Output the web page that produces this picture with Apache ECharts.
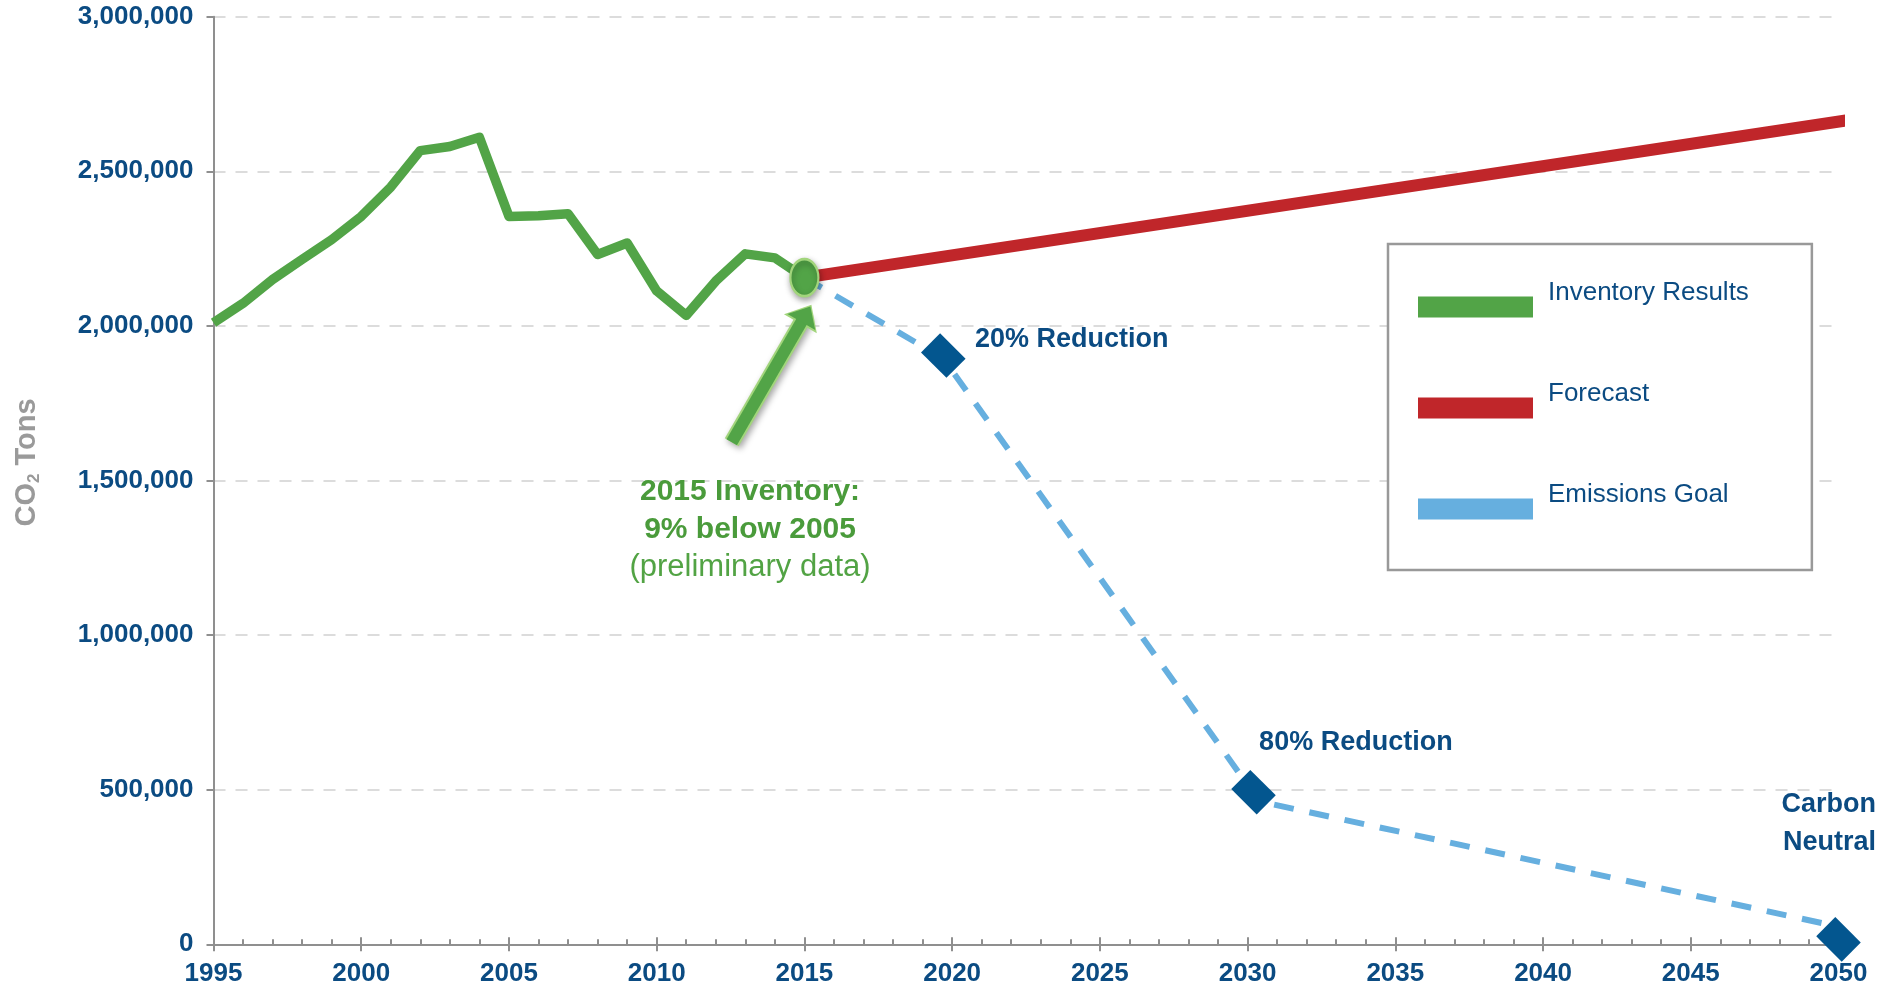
<!DOCTYPE html>
<html>
<head>
<meta charset="utf-8">
<script src="https://cdn.jsdelivr.net/npm/echarts@6/dist/echarts.min.js"></script>
<style>
html,body{margin:0;padding:0;background:#ffffff;}
#chart{width:1883px;height:992px;}
</style>
</head>
<body>
<div id="chart"></div>
<script>
// ---------- data ----------
const inventoryYears = [1995,1996,1997,1998,1999,2000,2001,2002,2003,2004,2005,2006,2007,2008,2009,2010,2011,2012,2013,2014,2015];
const inventoryValues = [2010000,2073000,2150000,2215000,2279000,2354000,2449000,2567000,2580000,2610000,2354000,2356000,2363000,2231000,2268000,2113000,2034000,2145000,2233000,2220000,2156000];

const forecastYears = [2015, 2050.3];
const forecastValues = [2156000, 2665000];

const goalYears = [2015, 2019.7, 2030.4, 2050];
const goalValues = [2156000, 1895000, 462000, 57000];

const goalMarkerYears = [2019.7, 2030.2, 2050];
const goalMarkerValues = [1904000, 492000, 16000];

const arrowYears = [2012.54, 2015.05];
const arrowValues = [1623800, 2037600];

const seriesNames = ['Inventory Results', 'Forecast', 'Emissions Goal'];
const yAxisName = ['CO', '2', ' Tons'];

const noteInventory = ['2015 Inventory:', '9% below 2005', '(preliminary data)'];
const noteInventoryAt = [2013.16, 1341000];
const note20 = '20% Reduction';
const note20At = [2020.77, 1956000];
const note80 = '80% Reduction';
const note80At = [2030.39, 653000];
const noteNeutral = ['Carbon', 'Neutral'];
const noteNeutralAt = [2051.27, 392000];

// ---------- styles ----------
const GREEN = '#52a447';
const GREEN_LIGHT = '#a2d57c';
const RED = '#c0262a';
const BLUE = '#66afdf';
const NAVY = '#0b4b82';
const DIAMOND = '#03568f';
const AXIS = '#8f8f8f';
const BASE_FONT = "'Liberation Sans', Arial, Helvetica, sans-serif";

const pairs = (xs, ys) => xs.map((x, i) => [x, ys[i]]);

const inventoryData = pairs(inventoryYears, inventoryValues).map((p, i, arr) => {
  if (i === arr.length - 1) {
    return {
      value: p,
      symbol: 'circle',
      symbolSize: [28, 37],
      itemStyle: {
        color: GREEN, borderColor: GREEN_LIGHT, borderWidth: 2.5,
        shadowBlur: 6, shadowColor: 'rgba(0,0,0,0.35)', shadowOffsetX: 1, shadowOffsetY: 3
      }
    };
  }
  return { value: p, symbol: 'none' };
});

const noteLabel = (extra) => Object.assign({
  show: true, position: 'inside', verticalAlign: 'middle', fontFamily: BASE_FONT, opacity: 1
}, extra);

const chart = echarts.init(document.getElementById('chart'), null, { renderer: 'canvas' });

const option = {
  backgroundColor: '#ffffff',
  animation: false,
  textStyle: { fontFamily: BASE_FONT },
  grid: {
    left: 213.5, right: 44.5, top: 16.7, bottom: 47.7,
    containLabel: false, outerBoundsMode: 'none'
  },
  legend: {
    data: [
      { name: seriesNames[0], itemStyle: { color: GREEN, borderWidth: 0 } },
      { name: seriesNames[1], itemStyle: { color: RED, borderWidth: 0 } },
      { name: seriesNames[2], itemStyle: { color: BLUE, borderWidth: 0 } }
    ],
    orient: 'vertical',
    left: 1388, top: 244,
    icon: 'rect',
    itemWidth: 115, itemHeight: 21,
    itemGap: 43,
    padding: [34, 63, 32, 30],
    borderColor: '#999999', borderWidth: 2.5,
    backgroundColor: '#ffffff',
    selectedMode: false,
    formatter: name => name + '\n ',
    textStyle: {
      fontFamily: BASE_FONT, fontSize: 26, color: NAVY,
      lineHeight: 29, padding: [0, 0, 0, 10]
    }
  },
  xAxis: [
    {
      type: 'value', min: 1995, max: 2050, interval: 5,
      position: 'bottom',
      axisLine: { show: true, lineStyle: { color: AXIS, width: 2 } },
      axisTick: { show: true, inside: true, length: 7, lineStyle: { color: AXIS, width: 2 } },
      minorTick: { show: true, splitNumber: 5, length: 5, lineStyle: { color: AXIS, width: 2 } },
      axisLabel: {
        show: true, margin: 17, color: NAVY, fontWeight: 'bold', fontSize: 26,
        fontFamily: BASE_FONT, formatter: v => String(v)
      },
      splitLine: { show: false }
    },
    {
      type: 'value', min: 1995, max: 2050, interval: 5,
      position: 'bottom',
      axisLine: { show: false },
      axisTick: { show: true, inside: false, length: 7, lineStyle: { color: AXIS, width: 2 } },
      axisLabel: { show: false },
      splitLine: { show: false }
    }
  ],
  yAxis: {
    type: 'value', min: 0, max: 3000000, interval: 500000,
    axisLine: { show: true, lineStyle: { color: AXIS, width: 2 } },
    axisTick: { show: true, inside: false, length: 7, lineStyle: { color: AXIS, width: 2 } },
    axisLabel: {
      margin: 20, color: NAVY, fontWeight: 'bold', fontSize: 26, fontFamily: BASE_FONT,
      formatter: v => Number(v).toLocaleString('en-US')
    },
    splitLine: { show: true, lineStyle: { color: '#dcdcdc', width: 2, type: [12, 10] } },
    name: '{a|' + yAxisName[0] + '}{b|' + yAxisName[1] + '}{a|' + yAxisName[2] + '}',
    nameLocation: 'middle',
    nameRotate: 90,
    nameGap: 171,
    nameTextStyle: {
      color: '#9a9a9a', fontWeight: 'bold', fontSize: 29, fontFamily: BASE_FONT,
      padding: [0, 0, 0, 36],
      rich: {
        a: { color: '#9a9a9a', fontWeight: 'bold', fontSize: 29, fontFamily: BASE_FONT },
        b: { color: '#9a9a9a', fontWeight: 'bold', fontSize: 17, fontFamily: BASE_FONT, padding: [14, 0, 0, 0] }
      }
    }
  },
  series: [
    {
      name: seriesNames[1], type: 'line', z: 2,
      data: pairs(forecastYears, forecastValues),
      symbol: 'none', showSymbol: false,
      lineStyle: { color: RED, width: 12, cap: 'round' },
      itemStyle: { color: RED },
      silent: true, clip: false
    },
    {
      name: seriesNames[2], type: 'line', z: 2,
      data: pairs(goalYears, goalValues),
      symbol: 'none', showSymbol: false,
      lineStyle: { color: BLUE, width: 6, type: [20, 16] },
      itemStyle: { color: BLUE },
      silent: true, clip: false
    },
    {
      name: 'Goal markers', type: 'scatter', z: 4,
      data: pairs(goalMarkerYears, goalMarkerValues),
      symbol: 'rect', symbolSize: [36, 27], symbolRotate: -45,
      itemStyle: { color: DIAMOND, opacity: 1 },
      silent: true, clip: false
    },
    {
      name: seriesNames[0], type: 'line', z: 5,
      data: inventoryData,
      symbol: 'none', showSymbol: true, showAllSymbol: true,
      lineStyle: { color: GREEN, width: 9.5, join: 'round' },
      itemStyle: { color: GREEN },
      silent: true, clip: false
    },
    {
      name: 'Arrow outline', type: 'lines', coordinateSystem: 'cartesian2d', z: 6,
      data: [{ coords: pairs(arrowYears, arrowValues) }],
      symbol: ['none', 'triangle'],
      symbolSize: [0, [38, 22]],
      lineStyle: { color: GREEN_LIGHT, width: 16, opacity: 1, curveness: 0,
        shadowBlur: 6, shadowColor: 'rgba(0,0,0,0.35)', shadowOffsetX: 2, shadowOffsetY: 3 },
      silent: true
    },
    {
      name: 'Arrow', type: 'lines', coordinateSystem: 'cartesian2d', z: 7,
      data: [{ coords: pairs(arrowYears, arrowValues) }],
      symbol: ['none', 'triangle'],
      symbolSize: [0, [32, 18]],
      lineStyle: { color: GREEN, width: 12, opacity: 1, curveness: 0 },
      silent: true
    },
    {
      name: 'Notes', type: 'scatter', z: 8,
      symbolSize: 1, silent: true, clip: false,
      itemStyle: { color: 'rgba(255,255,255,0)', opacity: 1 },
      data: [
        {
          value: noteInventoryAt,
          label: noteLabel({
            align: 'center',
            formatter: '{b|' + noteInventory[0] + '}\n{b|' + noteInventory[1] + '}\n{n|' + noteInventory[2] + '}',
            rich: {
              b: { fontFamily: BASE_FONT, fontWeight: 'bold', fontSize: 30, color: '#4a9b3b', lineHeight: 37.5, align: 'center' },
              n: { fontFamily: BASE_FONT, fontWeight: 'normal', fontSize: 31, color: '#52a344', lineHeight: 37.5, align: 'center' }
            }
          })
        },
        {
          value: note20At,
          label: noteLabel({ align: 'left', formatter: note20, fontWeight: 'bold', fontSize: 27, color: NAVY })
        },
        {
          value: note80At,
          label: noteLabel({ align: 'left', formatter: note80, fontWeight: 'bold', fontSize: 27, color: NAVY })
        },
        {
          value: noteNeutralAt,
          label: noteLabel({ align: 'right', formatter: noteNeutral.join('\n'), fontWeight: 'bold', fontSize: 27, lineHeight: 38, color: NAVY })
        }
      ]
    }
  ]
};

chart.setOption(option);
</script>
</body>
</html>
